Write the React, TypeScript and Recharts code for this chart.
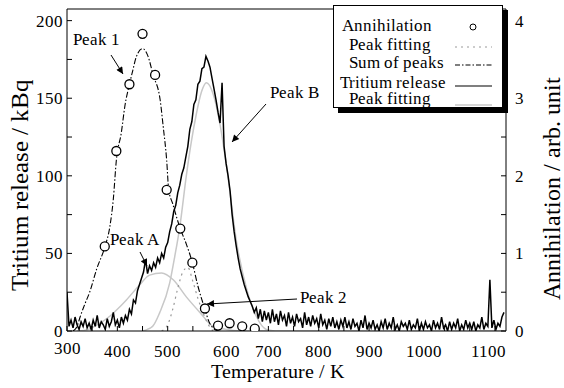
import React from "react";
import {
    ComposedChart,
    Line,
    Scatter,
    XAxis,
    YAxis,
    Legend,
} from "recharts";

const SERIF = '"RefSerif", "Liberation Serif", "Times New Roman", Tinos';
const FONT_CSS = `@font-face { font-family: "RefSerif"; src: local("Liberation Serif"), local("LiberationSerif"), local("LiberationSerif-Regular"); }`;

// tritium release (kBq), one reading every 4 K starting at 300 K
const tritiumStart = 300;
const tritiumStep = 4;
const tritiumRelease = [
    25, 3, 7, 2, 9, 4, 1, 6, 3, 8,
    2, 5, 1, 7, 3, 10, 2, 6, 4, 1,
    8, 3, 6, 12, 4, 7, 2, 9, 5, 10,
    7, 14, 11, 20, 18, 26, 30, 34, 38, 46,
    37, 42, 39, 44, 41, 47, 44, 50, 47, 54,
    57, 64, 69, 77, 81, 89, 94, 101, 105, 112,
    119, 130, 135, 146, 149, 159, 161, 169, 170, 177,
    174, 170, 163, 156, 149, 141, 134, 160, 119, 108,
    100, 90, 75, 64, 55, 47, 40, 35, 30, 26,
    22, 19, 16, 12, 15, 8, 14, 6, 13, 7,
    12, 5, 14, 6, 11, 4, 13, 7, 10, 3,
    12, 5, 9, 3, 11, 6, 8, 2, 12, 4,
    9, 3, 10, 5, 8, 2, 11, 4, 7, 1,
    8, 3, 9, 2, 6, 1, 7, 3, 9, 2,
    6, 1, 8, 3, 5, 0, 7, 2, 10, 1,
    5, 2, 7, 1, 4, 0, 6, 2, 8, 1,
    5, 2, 9, 1, 4, 0, 6, 3, 5, 1,
    7, 1, 4, 2, 8, 0, 5, 1, 6, 2,
    4, 0, 7, 2, 5, 1, 9, 2, 4, 0,
    6, 1, 5, 2, 8, 0, 4, 1, 7, 2,
    5, 1, 6, 0, 4, 2, 9, 1, 5, 3,
    33, 2, 7, 1, 5, 3, 9, 12,
];

// tritium peak fitting (kBq)
const peakATemps = [320, 342, 360, 385, 400, 418, 445, 464, 488, 511, 537, 564, 590, 617, 640, 700, 1168];
const peakAFit = [0, 1, 4, 9.5, 14, 20, 30, 36, 37.4, 33, 22, 12, 3, 1, 0.2, 0, 0];

const peakBTemps = [450, 470, 484, 504, 514, 524, 537, 547, 557, 567, 577, 590, 604, 617, 637, 657, 676, 696, 712];
const peakBFit = [0, 3, 11.7, 31, 48, 67, 100, 122, 140, 154, 160, 153, 133, 106, 57, 27, 9.5, 1, 0];

// annihilation (arb. unit)
const annihilationTemps = [375, 398, 424, 450, 475, 498, 525, 549, 574, 600, 623, 648, 673];
const annihilation = [1.09, 2.32, 3.18, 3.83, 3.3, 1.82, 1.32, 0.88, 0.29, 0.07, 0.1, 0.06, 0.03];

const sumTemps = [312, 320, 326, 335, 345, 359, 375, 385, 392, 398, 408, 415, 424, 430, 438, 450, 461, 471, 485, 491, 498, 502, 510, 518, 525, 537, 549, 560, 574, 582, 590, 600];
const sumOfPeaks = [0, 0.06, 0.18, 0.34, 0.5, 0.8, 1.08, 1.34, 1.7, 2.2, 2.56, 2.9, 3.18, 3.34, 3.54, 3.64, 3.54, 3.3, 2.98, 2.64, 2.2, 1.82, 1.64, 1.46, 1.32, 1.12, 0.88, 0.58, 0.28, 0.12, 0.04, 0];

const peak2Temps = [488, 500, 510, 520, 530, 540, 550, 560, 570, 580, 590];
const peak2Fit = [0, 0.08, 0.28, 0.55, 0.76, 0.82, 0.64, 0.42, 0.24, 0.09, 0];

const xTicks = [300, 350, 400, 450, 500, 550, 600, 650, 700, 750, 800, 850, 900, 950, 1000, 1050, 1100, 1150];
const leftTicks = [0, 25, 50, 75, 100, 125, 150, 175, 200];
const rightTicks = [0, 0.5, 1, 1.5, 2, 2.5, 3, 3.5, 4];

const pairs = (ts: number[], vs: number[]) => ts.map((t, i) => ({ t, v: vs[i] }));

const tritiumData = tritiumRelease.map((v, i) => ({ t: tritiumStart + i * tritiumStep, v }));
const peakAData = pairs(peakATemps, peakAFit);
const peakBData = pairs(peakBTemps, peakBFit);
const annihilationData = pairs(annihilationTemps, annihilation);
const sumData = pairs(sumTemps, sumOfPeaks);
const peak2Data = pairs(peak2Temps, peak2Fit);

// the printed labels sit a little off their ticks in the original
const labelShift: Record<number, [number, number]> = {
    300: [0, -3],
    600: [8, 0],
    1000: [5, 0],
    1100: [19, 0],
};

function BottomTick(props: any) {
    const { x, y, payload } = props;
    const v = payload.value;
    if (v % 100 !== 0) return <g />;
    const [dx, dy] = labelShift[v] || [0, 0];
    return (
        <text x={x + dx} y={y + 12 + dy} textAnchor="middle" fontFamily={SERIF} fontSize={17} fill="#000">
            {v}
        </text>
    );
}

function VTitle({ x, y, size, text }: { x: number; y: number; size: number; text: string }) {
    return (
        <text
            transform={`translate(${x},${y}) rotate(-90)`}
            textAnchor="middle"
            fontFamily={SERIF}
            fontSize={size}
            fill="#000"
        >
            {text}
        </text>
    );
}

function LegendBox() {
    const row = { fontFamily: SERIF, fontSize: 17, fill: "#000" };
    return (
        <div
            style={{
                boxSizing: "border-box",
                width: 170,
                height: 103,
                background: "#fff",
                border: "1px solid #000",
                boxShadow: "5px 5px 0 #000",
            }}
        >
            <svg width={168} height={101} style={{ display: "block" }}>
                <text x={8} y={25} {...row}>Annihilation</text>
                <circle cx={139} cy={21} r={3} fill="#fff" stroke="#000" strokeWidth={1} />
                <text x={15} y={44} {...row}>Peak fitting</text>
                <line x1={121} x2={158} y1={41} y2={41} stroke="#999" strokeWidth={1.2} strokeDasharray="2 4" />
                <text x={15} y={62} {...row}>Sum of peaks</text>
                <line x1={121} x2={158} y1={59} y2={59} stroke="#000" strokeWidth={1.2} strokeDasharray="5 2 1.5 2" />
                <text x={6} y={82} {...row}>Tritium release</text>
                <line x1={121} x2={158} y1={80} y2={80} stroke="#000" strokeWidth={1.2} />
                <text x={15} y={98} {...row}>Peak fitting</text>
                <line x1={121} x2={158} y1={99} y2={99} stroke="#c8c8c8" strokeWidth={1.5} />
            </svg>
        </div>
    );
}

function Annotations() {
    const t = { fontFamily: SERIF, fontSize: 17, fill: "#000" };
    return (
        <svg
            width={564}
            height={388}
            style={{ position: "absolute", left: 0, top: 0, pointerEvents: "none" }}
        >
            <defs>
                <marker id="head" viewBox="0 0 10 10" refX="10" refY="5" markerWidth="9" markerHeight="7" orient="auto">
                    <path d="M0,0 L10,5 L0,10 z" fill="#000" />
                </marker>
            </defs>
            <text x={73} y={45} {...t}>Peak 1</text>
            <line x1={111} y1={55} x2={123} y2={74} stroke="#000" strokeWidth={1} markerEnd="url(#head)" />
            <text x={110} y={245} {...t}>Peak A</text>
            <line x1={140} y1={252} x2={147} y2={266} stroke="#000" strokeWidth={1} markerEnd="url(#head)" />
            <text x={270} y={98} {...t}>Peak B</text>
            <line x1={266} y1={104} x2={232} y2={142} stroke="#000" strokeWidth={1} markerEnd="url(#head)" />
            <text x={300} y={303} {...t}>Peak 2</text>
            <line x1={297} y1={299} x2={207} y2={304} stroke="#000" strokeWidth={1} markerEnd="url(#head)" />
        </svg>
    );
}

export default function App() {
    return (
        <div style={{ position: "absolute", left: 0, top: 0, width: 564, height: 388, background: "#fff", fontFamily: SERIF }}>
            <style>{FONT_CSS}</style>
            <ComposedChart
                width={564}
                height={388}
                margin={{ top: 4, right: 18, bottom: 7, left: 7 }}
            >
                <XAxis
                    dataKey="t"
                    type="number"
                    domain={[300, 1172]}
                    ticks={xTicks}
                    interval={0}
                    height={50}
                    allowDataOverflow
                    stroke="#000"
                    tickSize={-5}
                    tickMargin={19}
                    tick={(p: any) => <BottomTick {...p} />}
                    label={{
                        content: () => (
                            <text x={277} y={378} textAnchor="middle" fontFamily={SERIF} fontSize={20} fill="#000">
                                Temperature / K
                            </text>
                        ),
                    }}
                />
                <XAxis
                    xAxisId="top"
                    orientation="top"
                    dataKey="t"
                    type="number"
                    domain={[300, 1172]}
                    ticks={xTicks}
                    interval={0}
                    height={5}
                    allowDataOverflow
                    stroke="#000"
                    tickSize={-5}
                    tick={false}
                />
                <YAxis
                    yAxisId="left"
                    domain={[0, 207.5]}
                    ticks={leftTicks}
                    interval={0}
                    width={60}
                    allowDataOverflow
                    stroke="#000"
                    tickSize={-5}
                    tickMargin={9}
                    tickFormatter={(v: number) => (v % 50 === 0 ? String(v) : "")}
                    tick={{ fontSize: 17, fontFamily: SERIF, fill: "#000" }}
                    label={{ content: () => <VTitle x={28} y={185} size={25} text="Tritium release / kBq" /> }}
                />
                <YAxis
                    yAxisId="right"
                    orientation="right"
                    domain={[0, 4.15]}
                    ticks={rightTicks}
                    interval={0}
                    width={40}
                    allowDataOverflow
                    stroke="#000"
                    tickSize={-5}
                    tickMargin={14}
                    tickFormatter={(v: number) => (Number.isInteger(v) ? String(v) : "")}
                    tick={{ fontSize: 17, fontFamily: SERIF, fill: "#000", textAnchor: "start" }}
                    label={{ content: () => <VTitle x={560} y={188} size={24} text="Annihilation / arb. unit" /> }}
                />

                <Line data={peakAData} dataKey="v" yAxisId="left" type="monotone" stroke="#c8c8c8" strokeWidth={1.5} dot={false} isAnimationActive={false} />
                <Line data={peakBData} dataKey="v" yAxisId="left" type="monotone" stroke="#c8c8c8" strokeWidth={1.5} dot={false} isAnimationActive={false} />
                <Line data={tritiumData} dataKey="v" yAxisId="left" type="linear" stroke="#000" strokeWidth={1.5} dot={false} isAnimationActive={false} />
                <Line data={peak2Data} dataKey="v" yAxisId="right" type="monotone" stroke="#999" strokeWidth={1.2} strokeDasharray="2 4" dot={false} isAnimationActive={false} />
                <Line data={sumData} dataKey="v" yAxisId="right" type="monotone" stroke="#000" strokeWidth={1.1} strokeDasharray="6 2 1.5 2" dot={false} isAnimationActive={false} />
                <Scatter
                    data={annihilationData}
                    dataKey="v"
                    yAxisId="right"
                    isAnimationActive={false}
                    shape={(p: any) => (
                        <circle cx={p.cx} cy={p.cy} r={4.5} fill="#fff" stroke="#000" strokeWidth={1.3} />
                    )}
                />
                <Legend
                    layout="horizontal"
                    verticalAlign="middle"
                    align="center"
                    wrapperStyle={{ position: "absolute", left: 333, top: 5, width: 170, height: 103 }}
                    content={() => <LegendBox />}
                />
            </ComposedChart>
            <Annotations />
        </div>
    );
}
